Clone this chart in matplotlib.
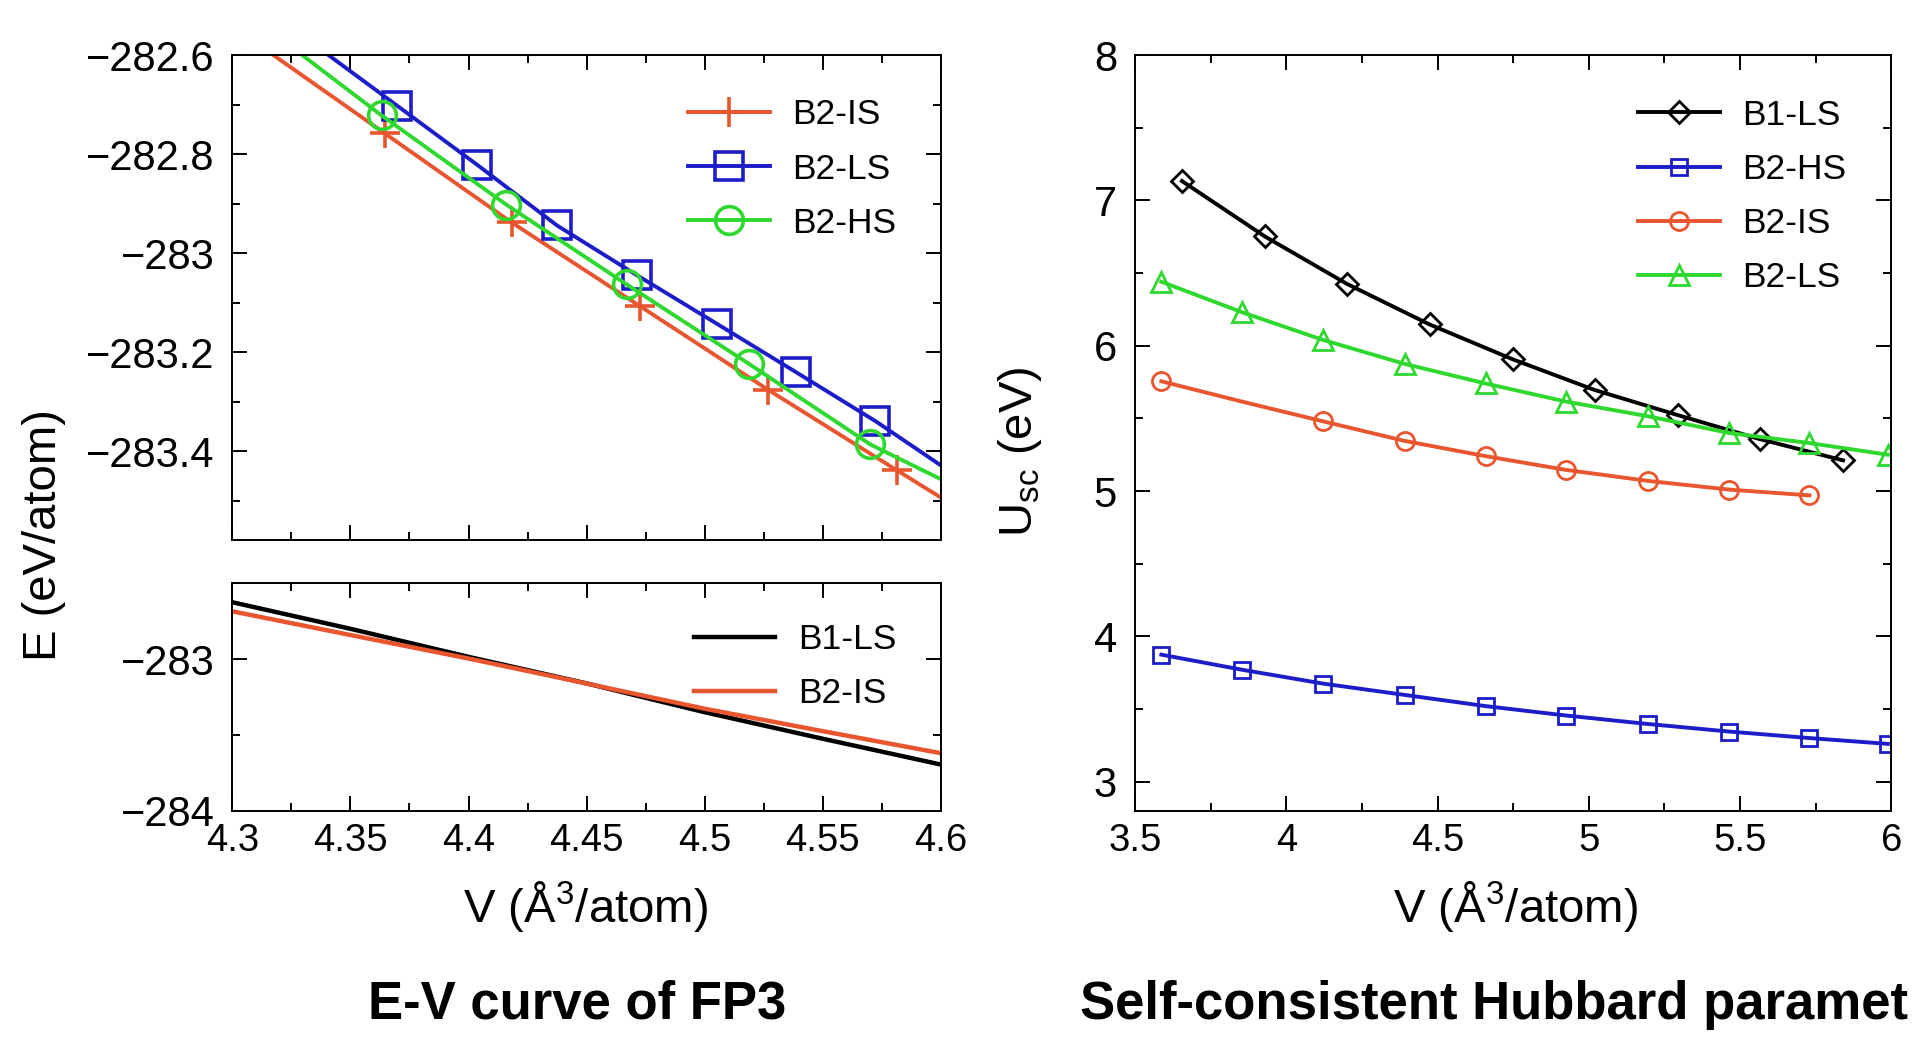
import matplotlib.pyplot as plt
from matplotlib.ticker import MultipleLocator, FuncFormatter

plt.rcParams['font.family'] = ['Liberation Sans', 'DejaVu Sans']
plt.rcParams['mathtext.default'] = 'regular'

ORANGE = '#e8552e'
BLUE = '#1c1cc8'
GREEN = '#2ed82e'

# E-V curves of FP3, B2 phases (line values at the axis edges, markers in between)
v_b2is = [4.300, 4.3645, 4.4183, 4.4727, 4.5270, 4.5814, 4.600]
e_b2is = [-282.542, -282.758, -282.938, -283.107, -283.276, -283.438, -283.493]
v_b2ls = [4.300, 4.3697, 4.4038, 4.4375, 4.4712, 4.5054, 4.5387, 4.5724, 4.600]
e_b2ls = [-282.457, -282.702, -282.822, -282.944, -283.044, -283.143, -283.240, -283.339, -283.428]
v_b2hs = [4.300, 4.3632, 4.4160, 4.4670, 4.5190, 4.5702, 4.600]
e_b2hs = [-282.493, -282.722, -282.902, -283.063, -283.224, -283.386, -283.456]

# B1-LS vs B2-IS comparison
v_cmp = [4.30, 4.35, 4.40, 4.45, 4.50, 4.55, 4.60]
e_cmp_b1ls = [-282.625, -282.800, -282.985, -283.160, -283.350, -283.525, -283.695]
e_cmp_b2is = [-282.685, -282.841, -282.996, -283.161, -283.327, -283.475, -283.620]

# self-consistent U
v_b1 = [3.655, 3.929, 4.200, 4.474, 4.748, 5.020, 5.295, 5.566, 5.841]
u_b1ls = [7.133, 6.752, 6.426, 6.146, 5.907, 5.695, 5.522, 5.357, 5.211]
v_b2 = [3.587, 3.854, 4.121, 4.391, 4.659, 4.926, 5.195, 5.463, 5.730, 5.989]
u_b2hs = [3.874, 3.770, 3.675, 3.597, 3.520, 3.455, 3.397, 3.345, 3.300, 3.260]
u_b2is = [5.755, 5.615, 5.480, 5.345, 5.240, 5.145, 5.070, 5.010, 4.970]
u_b2ls = [6.440, 6.230, 6.040, 5.875, 5.740, 5.615, 5.515, 5.400, 5.330, 5.250]

XTICK_FS = 27.5
YTICK_FS = 30
LEG_FS = 25.5
LABEL_FS = 34
TITLE_FS = 38
LW = 2.8


def fmt(v, pos):
    return f'{v:g}'.replace('-', '\u2212')


def style_axes(ax):
    ax.tick_params(which='both', direction='in', top=True, right=True, width=1.4)
    ax.tick_params(which='major', length=11)
    ax.tick_params(which='minor', length=6)
    ax.tick_params(axis='x', labelsize=XTICK_FS, pad=9)
    ax.tick_params(axis='y', labelsize=YTICK_FS, pad=13)
    for sp in ax.spines.values():
        sp.set_linewidth(1.4)
    ax.xaxis.set_major_formatter(FuncFormatter(fmt))
    ax.yaxis.set_major_formatter(FuncFormatter(fmt))


def add_legend(ax, anchor):
    ax.legend(loc='upper right', bbox_to_anchor=anchor, borderaxespad=0,
              frameon=False, fontsize=LEG_FS, handlelength=2.3,
              handletextpad=0.65, labelspacing=0.6)


fig = plt.figure(figsize=(19.18, 10.37), dpi=100)

# upper left: E-V curves
ax1 = fig.add_axes([0.1212, 0.4788, 0.3692, 0.4681])
ax1.plot(v_b2is, e_b2is, color=ORANGE, lw=LW, marker='+', ms=22, mew=2.6,
         markevery=slice(1, -1), label='B2-IS')
ax1.plot(v_b2ls, e_b2ls, color=BLUE, lw=LW, marker='s', ms=20, mew=2.6,
         mfc='none', markevery=slice(1, -1), label='B2-LS')
ax1.plot(v_b2hs, e_b2hs, color=GREEN, lw=LW, marker='o', ms=20, mew=2.6,
         mfc='none', markevery=slice(1, -1), label='B2-HS')
ax1.set_xlim(4.3, 4.6)
ax1.set_ylim(-283.58, -282.6)
ax1.xaxis.set_major_locator(MultipleLocator(0.05))
ax1.xaxis.set_minor_locator(MultipleLocator(0.025))
ax1.yaxis.set_major_locator(MultipleLocator(0.2))
ax1.yaxis.set_minor_locator(MultipleLocator(0.1))
style_axes(ax1)
ax1.tick_params(labelbottom=False)
add_legend(ax1, (0.958, 0.94))

# lower left: B1-LS vs B2-IS
ax2 = fig.add_axes([0.1212, 0.2182, 0.3692, 0.2193])
ax2.plot(v_cmp, e_cmp_b1ls, color='black', lw=3.2, label='B1-LS')
ax2.plot(v_cmp, e_cmp_b2is, color=ORANGE, lw=3.2, label='B2-IS')
ax2.set_xlim(4.3, 4.6)
ax2.set_ylim(-284, -282.5)
ax2.xaxis.set_major_locator(MultipleLocator(0.05))
ax2.xaxis.set_minor_locator(MultipleLocator(0.025))
ax2.yaxis.set_major_locator(MultipleLocator(1))
ax2.yaxis.set_minor_locator(MultipleLocator(0.5))
style_axes(ax2)
add_legend(ax2, (0.958, 0.888))

fig.text(0.023, 0.484, 'E (eV/atom)', rotation=90, ha='center', va='center',
         fontsize=LABEL_FS)
fig.text(0.305, 0.126, 'V (Å$^3$/atom)', ha='center', va='center',
         fontsize=LABEL_FS)
fig.text(0.301, 0.031, 'E-V curve of FP3', ha='center', va='center',
         fontsize=TITLE_FS, fontweight='bold')

# right: self-consistent U
ax3 = fig.add_axes([0.5918, 0.2182, 0.3942, 0.7287])
ax3.plot(v_b1, u_b1ls, color='black', lw=LW, marker='D', ms=11, mew=2,
         mfc='none', label='B1-LS')
ax3.plot(v_b2, u_b2hs, color=BLUE, lw=LW, marker='s', ms=12, mew=2,
         mfc='none', label='B2-HS')
ax3.plot(v_b2[:len(u_b2is)], u_b2is, color=ORANGE, lw=LW, marker='o', ms=13,
         mew=2, mfc='none', markevery=[0, 2, 3, 4, 5, 6, 7, 8], label='B2-IS')
ax3.plot(v_b2, u_b2ls, color=GREEN, lw=LW, marker='^', ms=15, mew=2,
         mfc='none', label='B2-LS')
ax3.set_xlim(3.5, 6)
ax3.set_ylim(2.8, 8)
ax3.xaxis.set_major_locator(MultipleLocator(0.5))
ax3.xaxis.set_minor_locator(MultipleLocator(0.25))
ax3.yaxis.set_major_locator(MultipleLocator(1))
ax3.yaxis.set_minor_locator(MultipleLocator(0.5))
style_axes(ax3)
add_legend(ax3, (0.96, 0.961))

fig.text(0.532, 0.564, 'U$_{sc}$ (eV)', rotation=90, ha='center', va='center',
         fontsize=LABEL_FS)
fig.text(0.79, 0.126, 'V (Å$^3$/atom)', ha='center', va='center',
         fontsize=LABEL_FS)
fig.text(0.5631, 0.031, 'Self-consistent Hubbard paramet', ha='left',
         va='center', fontsize=TITLE_FS, fontweight='bold')

fig.savefig('out.png', dpi=100)
